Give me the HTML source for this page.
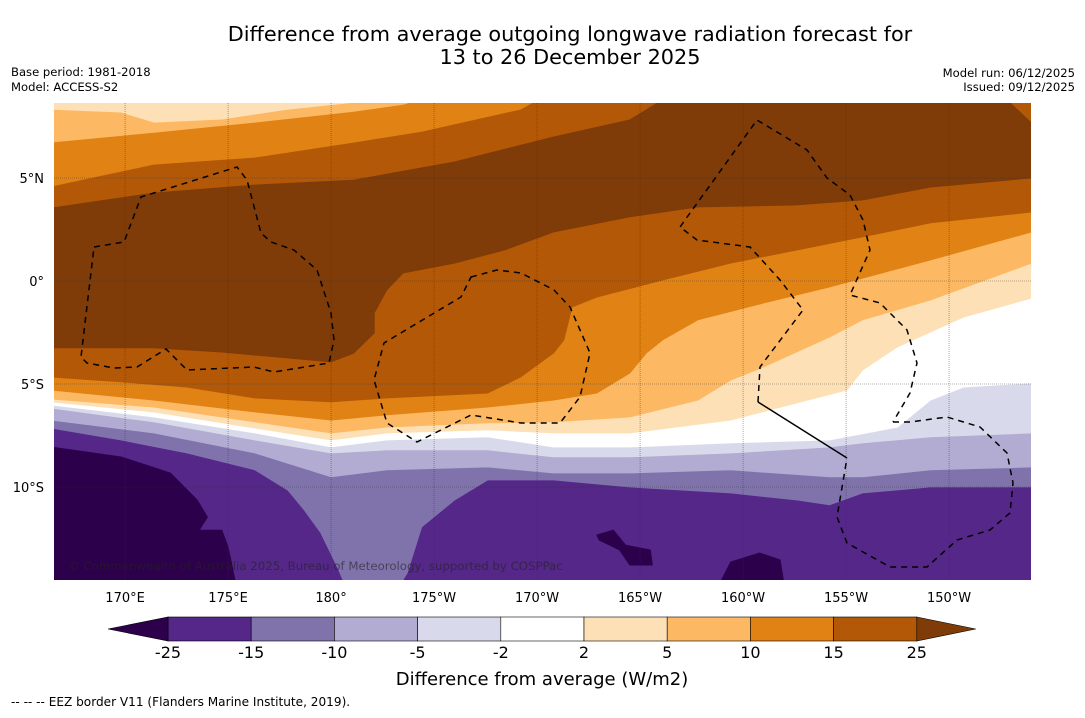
<!DOCTYPE html>
<html><head><meta charset="utf-8">
<style>
html,body{margin:0;padding:0;background:#fff;}
body{width:1085px;height:713px;overflow:hidden;font-family:"Liberation Sans",sans-serif;}
svg text{font-family:"DejaVu Sans","Liberation Sans",sans-serif;}
</style></head>
<body>
<svg id="chart" width="1085" height="713" viewBox="0 0 1085 713" xmlns="http://www.w3.org/2000/svg">
<text x="570" y="41" font-size="20.8" text-anchor="middle" fill="#000">Difference from average outgoing longwave radiation forecast for</text>
<text x="570" y="64" font-size="20.8" text-anchor="middle" fill="#000">13 to 26 December 2025</text>
<text x="11" y="76" font-size="11.6">Base period: 1981-2018</text>
<text x="11" y="91" font-size="11.6">Model: ACCESS-S2</text>
<text x="1075" y="77" font-size="11.6" text-anchor="end">Model run: 06/12/2025</text>
<text x="1075" y="91" font-size="11.6" text-anchor="end">Issued: 09/12/2025</text>
<defs><clipPath id="mapclip"><rect x="54" y="103" width="977" height="477"/></clipPath></defs>
<g id="map" clip-path="url(#mapclip)"></g>
<g id="axes"></g>
<g id="cbar"></g>
<text x="542" y="685" font-size="18" text-anchor="middle">Difference from average (W/m2)</text>
<text x="11" y="706" font-size="12.1">--  --  -- EEZ border V11 (Flanders Marine Institute, 2019).</text>
</svg>
<script>
// contour levels and band colours
const levels = [-25, -15, -10, -5, -2, 2, 5, 10, 15, 25];
const bandColors = ["#2d004b","#542788","#8073ac","#b2abd2","#d8daeb","#ffffff","#fee0b6","#fdb863","#e08214","#b35806","#7f3b08"];
const lonTicks = [170,175,180,185,190,195,200,205,210];
const lonTickLabels = ["170°E","175°E","180°","175°W","170°W","165°W","160°W","155°W","150°W"];
const latTicks = [5,0,-5,-10];
const latTickLabels = ["5°N","0°","5°S","10°S"];
// boundaries [lon(0-360), lat]: lower edge of region "value > level"
const lowerM15 = [[166.55,-7.14],[169.8,-7.72],[173.0,-8.35],[176.3,-9.17],[177.9,-10.15],[178.7,-11.12],[179.5,-12.23],[180.3,-13.88],[180.7,-14.8],[183.3,-14.8],[183.7,-14.17],[184.4,-11.94],[186.0,-10.63],[187.6,-9.66],[190.8,-9.66],[194.5,-10.0],[199.4,-10.29],[202.6,-10.63],[204.2,-10.87],[205.8,-10.29],[209.1,-10.0],[213.9,-10.0]];
const lowerM10 = [[166.55,-6.75],[171.4,-7.38],[176.3,-8.35],[180,-9.51],[182.7,-9.17],[187.6,-9.03],[190.8,-9.32],[194.5,-9.32],[199.4,-9.17],[204.2,-9.51],[205.8,-9.51],[209.1,-9.17],[213.9,-9.03]];
const lowerM5 = [[166.55,-6.17],[171.4,-6.84],[176.3,-7.72],[180,-8.35],[182.7,-8.2],[187.6,-8.2],[190.8,-8.54],[194.5,-8.54],[199.4,-8.35],[204.2,-8.06],[205.8,-7.86],[209.1,-7.57],[213.9,-7.38]];
const lowerM2 = [[166.55,-6.02],[171.4,-6.6],[176.3,-7.38],[180,-8.06],[182.7,-7.72],[187.6,-7.57],[190.8,-8.06],[194.5,-8.06],[199.4,-7.86],[204.2,-7.72],[207.5,-7.09],[209.1,-5.78],[210.7,-5.15],[213.9,-4.95]];
const lower2 = [[166.55,-5.87],[171.4,-6.36],[176.3,-7.14],[180,-7.72],[182.7,-7.38],[187.6,-7.23],[190.8,-7.38],[194.5,-7.38],[199.4,-6.75],[202.6,-5.92],[205.05,-5.29],[205.8,-4.32],[207.5,-3.2],[210.7,-1.75],[213.9,-0.83]];
const lower5 = [[166.55,-5.73],[171.4,-6.12],[176.3,-6.84],[180,-7.38],[182.7,-7.09],[187.6,-6.89],[190.8,-6.84],[194.5,-6.6],[197.8,-5.78],[199.4,-4.81],[201.0,-4.17],[204.2,-2.72],[205.8,-1.89],[209.1,-0.92],[213.9,0.87]];
const upper5 = [[166.55,8.3],[169.8,8.16],[171.4,7.67],[174.7,7.82],[177.9,8.3],[182.7,8.8],[213.9,8.8]];
const lower10 = [[166.55,-5.29],[171.4,-5.78],[176.3,-6.36],[180,-6.75],[182.7,-6.5],[187.6,-6.12],[190.8,-5.78],[192.9,-5.44],[194.5,-4.47],[195.3,-3.5],[196.1,-2.86],[197.8,-1.89],[201.0,-1.07],[204.2,-0.29],[209.1,1.02],[213.9,2.38]];
const upper10 = [[166.55,6.7],[171.4,7.18],[176.3,7.67],[181.1,8.2],[183.5,8.54],[184.4,8.8],[213.9,8.8]];
const lower15 = [[166.55,-4.66],[169.8,-4.9],[173.0,-5.15],[176.3,-5.68],[180,-5.87],[182.7,-5.68],[187.6,-5.44],[189.2,-4.66],[190.8,-3.5],[191.3,-2.86],[191.7,-1.26],[192.9,-0.78],[196.1,0.05],[199.4,0.87],[202.6,1.5],[205.8,2.14],[209.1,2.82],[213.9,3.35]];
const upper15 = [[166.55,4.56],[171.4,5.63],[176.3,5.97],[181.1,6.7],[184.4,7.23],[189.2,8.3],[190.1,8.8],[213.9,8.8]];
const lower25 = [[166.55,-3.25],[171.4,-3.25],[174.7,-3.45],[177.9,-3.74],[180,-3.93],[181.1,-3.5],[182.1,-2.52],[182.1,-1.55],[182.7,-0.44],[183.5,0.39],[186.0,0.87],[188.4,1.5],[190.8,2.38],[194.5,3.11],[197.8,3.59],[202.6,3.69],[205.8,3.93],[209.1,4.56],[213.9,5.0]];
const upper25 = [[166.55,3.54],[171.4,4.27],[176.3,4.66],[181.1,4.9],[186.0,5.78],[190.8,6.99],[194.5,7.82],[196.1,8.8],[212.8,8.8],[213.9,7.67]];
// closed regions below -25
const blobWest = [[166.4,-8.06],[169.8,-8.54],[172.2,-9.32],[173.5,-10.63],[174.0,-11.46],[173.6,-12.09],[174.7,-12.09],[175.0,-12.91],[175.4,-14.8],[166.4,-14.8]];
const blobMid = [[192.9,-12.33],[193.7,-12.09],[194.3,-12.82],[195.5,-13.06],[195.6,-13.79],[194.5,-13.79],[194.0,-13.06],[193.0,-12.57]];
const blobEast = [[198.8,-14.8],[199.4,-13.64],[200.8,-13.2],[201.8,-13.54],[202.0,-14.8]];

const NS = "http://www.w3.org/2000/svg";
const X0 = 54, LON0 = 166.55, PPD = 20.6, Y0 = 281;
function xs(lon){ return X0 + (lon - LON0) * PPD; }
function ys(lat){ return Y0 - lat * PPD; }
const TOP = [[166.4,8.8],[214,8.8]];
function ptsStr(arr){ return arr.map(p => xs(p[0]).toFixed(1)+","+ys(p[1]).toFixed(1)).join(" "); }
const map = document.getElementById("map");
function poly(parent, pts, fill, name){
  const el = document.createElementNS(NS, "polygon");
  el.setAttribute("points", ptsStr(pts));
  el.setAttribute("fill", fill);
  el.setAttribute("stroke", fill);
  el.setAttribute("stroke-width", "0.8");
  
  
  parent.appendChild(el);
}
function band(upper, lower){
  const u = upper.map(p=>p.slice()); u[0][0]=166.4; u[u.length-1][0]=214;
  const l = lower.map(p=>p.slice()); l[0][0]=166.4; l[l.length-1][0]=214;
  return u.concat(l.reverse());
}
// base
const bg = document.createElementNS(NS,"rect");
bg.setAttribute("x","54"); bg.setAttribute("y","103"); bg.setAttribute("width","977"); bg.setAttribute("height","477");
bg.setAttribute("fill", bandColors[1]);


map.appendChild(bg);
poly(map, blobWest, bandColors[0], "region-below-minus25-west");
poly(map, blobMid, bandColors[0], "region-below-minus25-mid");
poly(map, blobEast, bandColors[0], "region-below-minus25-east");
const regions = [
  [TOP, lowerM15, 2, "region-above-minus15"],
  [TOP, lowerM10, 3, "region-above-minus10"],
  [TOP, lowerM5, 4, "region-above-minus5"],
  [TOP, lowerM2, 5, "region-above-minus2"],
  [TOP, lower2, 6, "region-above-2"],
  [upper5, lower5, 7, "region-above-5"],
  [upper10, lower10, 8, "region-above-10"],
  [upper15, lower15, 9, "region-above-15"],
  [upper25, lower25, 10, "region-above-25"]
];
regions.forEach(r => poly(map, band(r[0], r[1]), bandColors[r[2]], r[3]));

// gridlines
lonTicks.forEach(lon=>{
  const l=document.createElementNS(NS,"line");
  l.setAttribute("x1",xs(lon));l.setAttribute("x2",xs(lon));l.setAttribute("y1",103);l.setAttribute("y2",580);
  l.setAttribute("stroke","#333");l.setAttribute("stroke-width","0.6");l.setAttribute("stroke-dasharray","1,1");l.setAttribute("opacity","0.7");
  
  
  map.appendChild(l);
});
latTicks.forEach(lat=>{
  const l=document.createElementNS(NS,"line");
  l.setAttribute("x1",54);l.setAttribute("x2",1031);l.setAttribute("y1",ys(lat));l.setAttribute("y2",ys(lat));
  l.setAttribute("stroke","#333");l.setAttribute("stroke-width","0.6");l.setAttribute("stroke-dasharray","1,1");l.setAttribute("opacity","0.7");
  
  
  map.appendChild(l);
});
// EEZ borders (pixel outlines, decoration)
const eezPaths = [
 "M94,247 L124,242 L141,197 L237,167 L247,180 L261,233 L271,242 L294,250 L317,270 L331,313 L334,340 L329,363 L274,372 L254,367 L187,370 L166,349 L137,367 L114,368 L87,363 L81,357 Z",
 "M471,277 L497,270 L521,273 L554,290 L570,307 L590,353 L580,397 L560,423 L521,423 L471,415 L417,442 L387,423 L374,380 L384,343 L461,297 Z",
 "M758,402 L760,367 L803,310 L780,280 L750,247 L697,240 L680,227 L757,120 L807,150 L827,178 L850,195 L863,220 L870,250 L850,295 L880,303 L907,330 L917,363 L910,393 L893,422",
 "M893,422 L910,422 L947,417 L980,427 L1007,453 L1013,483 L1010,513 L990,530 L957,540 L927,567 L890,567 L847,543 L837,517 L847,458"
];
eezPaths.forEach((d,i)=>{
  const p=document.createElementNS(NS,"path");
  p.setAttribute("d",d);p.setAttribute("fill","none");p.setAttribute("stroke","#000");p.setAttribute("stroke-width","1.5");p.setAttribute("stroke-dasharray","6,5");
  
  
  map.appendChild(p);
});
const solid=document.createElementNS(NS,"path");
solid.setAttribute("d","M758,402 L847,458");solid.setAttribute("stroke","#000");solid.setAttribute("stroke-width","1.5");


map.appendChild(solid);
const cp=document.createElementNS(NS,"text");
cp.setAttribute("x","68");cp.setAttribute("y","570");cp.setAttribute("font-size","11.75");cp.setAttribute("fill","#222");cp.setAttribute("opacity","0.6");
cp.textContent="© Commonwealth of Australia 2025, Bureau of Meteorology, supported by COSPPac";


map.appendChild(cp);

// axis labels
const axes=document.getElementById("axes");
lonTicks.forEach((lon,i)=>{
  const t=document.createElementNS(NS,"text");
  t.setAttribute("x",xs(lon));t.setAttribute("y","602");t.setAttribute("font-size","13");t.setAttribute("text-anchor","middle");
  t.textContent=lonTickLabels[i];
  
  
  axes.appendChild(t);
});
latTicks.forEach((lat,i)=>{
  const t=document.createElementNS(NS,"text");
  t.setAttribute("x","44");t.setAttribute("y",ys(lat)+5);t.setAttribute("font-size","13");t.setAttribute("text-anchor","end");
  t.textContent=latTickLabels[i];
  
  
  axes.appendChild(t);
});
// colorbar
const cbar=document.getElementById("cbar");
const CB0=168, CBW=83.2, CBY=617, CBH=24;
function cbx(i){ return CB0 + i*CBW; }
for(let i=0;i<levels.length-1;i++){
  const r=document.createElementNS(NS,"rect");
  r.setAttribute("x",cbx(i));r.setAttribute("y",CBY);r.setAttribute("width",CBW);r.setAttribute("height",CBH);
  r.setAttribute("fill",bandColors[i+1]);r.setAttribute("stroke","#000");r.setAttribute("stroke-width","0.6");
  
  
  cbar.appendChild(r);
}
const lt=document.createElementNS(NS,"polygon");
lt.setAttribute("points",`108,${CBY+CBH/2} ${CB0},${CBY} ${CB0},${CBY+CBH}`);lt.setAttribute("fill",bandColors[0]);lt.setAttribute("stroke","#000");lt.setAttribute("stroke-width","0.6");


cbar.appendChild(lt);
const rEnd=cbx(levels.length-1);
const rt=document.createElementNS(NS,"polygon");
rt.setAttribute("points",`${rEnd},${CBY} ${rEnd+59},${CBY+CBH/2} ${rEnd},${CBY+CBH}`);rt.setAttribute("fill",bandColors[10]);rt.setAttribute("stroke","#000");rt.setAttribute("stroke-width","0.6");


cbar.appendChild(rt);
levels.forEach((v,i)=>{
  const t=document.createElementNS(NS,"text");
  t.setAttribute("x",cbx(i));t.setAttribute("y","658");t.setAttribute("font-size","16");t.setAttribute("text-anchor","middle");
  t.textContent=String(v);
  
  
  cbar.appendChild(t);
});
</script>
</body></html>
